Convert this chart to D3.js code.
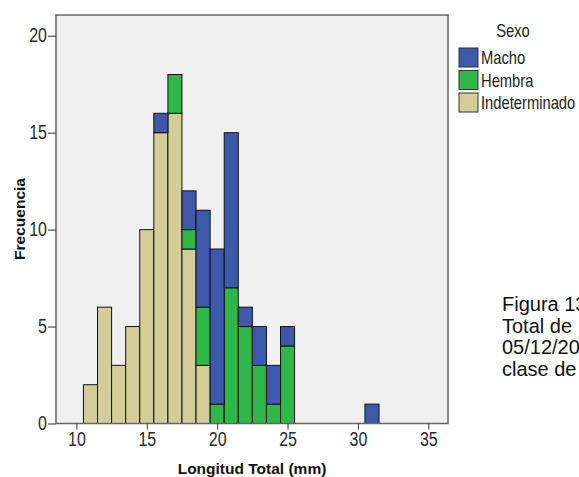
<!DOCTYPE html>
<html>
<head>
<meta charset="utf-8">
<script src="https://cdn.jsdelivr.net/npm/d3@7"></script>
<style>
  body { margin: 0; background: #fff; overflow: hidden; }
  svg { display: block; }
  .tick text { font-family: "Liberation Sans", Arial, sans-serif; font-size: 19.5px; fill: #2a2a2a; }
  .tick line { stroke: #333; }
  .axis-title { font-family: "Liberation Sans", Arial, sans-serif; font-weight: bold; font-size: 15.5px; fill: #111; }
  .legend text { font-family: "Liberation Sans", Arial, sans-serif; font-size: 18px; fill: #222; }
  .note { font-family: "Liberation Sans", Arial, sans-serif; font-size: 20px; fill: #111; }
</style>
</head>
<body>
<svg id="vis" width="579" height="477"></svg>
<script>
// histogram classes (mm) and counts per sex
var BINS = [11, 12, 13, 14, 15, 16, 17, 18, 19, 20, 21, 22, 23, 24, 25, 31];
var MACHO = [0, 0, 0, 0, 0, 1, 0, 2, 5, 8, 8, 1, 2, 2, 1, 1];
var HEMBRA = [0, 0, 0, 0, 0, 0, 2, 1, 3, 1, 7, 5, 3, 1, 4, 0];
var INDET = [2, 6, 3, 5, 10, 15, 16, 9, 3, 0, 0, 0, 0, 0, 0, 0];

var X_TICKS = [10, 15, 20, 25, 30, 35];
var Y_TICKS = [0, 5, 10, 15, 20];
var SERIES = ["Macho", "Hembra", "Indeterminado"];
var COLORS = { "Macho": "#3e58ac", "Hembra": "#2eb848", "Indeterminado": "#d3ce97" };
var NOTE = ["Figura 13:", "Total de", "05/12/20", "clase de"];

var NARROW = 0.82; // fake an Arial Narrow look

var svg = d3.select("#vis");
var plotL = 56, plotR = 448, plotT = 15, plotB = 423.5;

var xScale = d3.scaleLinear().domain([8.55, 36.4]).range([plotL, plotR]);
var yScale = d3.scaleLinear().domain([0, 21.07]).range([plotB, plotT]);

var rows = BINS.map((b, i) => ({ bin: b, Macho: MACHO[i], Hembra: HEMBRA[i], Indeterminado: INDET[i] }));
var stacked = d3.stack().keys(["Indeterminado", "Hembra", "Macho"])(rows);

// plot background
svg.append("rect")
   .attr("x", plotL)
   .attr("y", plotT)
   .attr("width", plotR - plotL)
   .attr("height", plotB - plotT)
   .attr("fill", "#f0f0f0");

// bars
svg.selectAll("g.layer")
   .data(stacked)
   .enter()
   .append("g")
   .attr("class", "layer")
   .attr("fill", d => COLORS[d.key])
   .selectAll("rect")
   .data(d => d.filter(p => p[1] > p[0]))
   .enter()
   .append("rect")
   .attr("x", d => xScale(d.data.bin - 0.5))
   .attr("width", d => xScale(d.data.bin + 0.5) - xScale(d.data.bin - 0.5))
   .attr("y", d => yScale(d[1]))
   .attr("height", d => yScale(d[0]) - yScale(d[1]))
   .attr("stroke", "#111")
   .attr("stroke-width", 1);

// frame
svg.append("rect")
   .attr("x", plotL)
   .attr("y", plotT)
   .attr("width", plotR - plotL)
   .attr("height", plotB - plotT)
   .attr("fill", "none")
   .attr("stroke", "#666")
   .attr("stroke-width", 1.5);

// x-axis
var xAxis = svg.append("g")
   .attr("transform", "translate(0," + plotB + ")")
   .call(d3.axisBottom(xScale).tickValues(X_TICKS).tickSize(6).tickPadding(3));
xAxis.select(".domain").remove();
xAxis.selectAll(".tick text").attr("transform", "scale(" + NARROW + ",1)");

// y-axis
var yAxis = svg.append("g")
   .attr("transform", "translate(" + plotL + ",0)")
   .call(d3.axisLeft(yScale).tickValues(Y_TICKS).tickSize(8).tickPadding(1));
yAxis.select(".domain").remove();
yAxis.selectAll(".tick text")
     .attr("x", -9 / NARROW)
     .attr("transform", "scale(" + NARROW + ",1)");

// axis titles
svg.append("text")
   .attr("class", "axis-title")
   .attr("x", (plotL + plotR) / 2)
   .attr("y", 474)
   .attr("text-anchor", "middle")
   .text("Longitud Total (mm)");

svg.append("text")
   .attr("class", "axis-title")
   .attr("transform", "translate(25,219) rotate(-90)")
   .attr("text-anchor", "middle")
   .text("Frecuencia");

// legend
var legend = svg.append("g").attr("class", "legend");
legend.append("text")
   .attr("transform", "translate(513,37) scale(" + NARROW + ",1)")
   .attr("text-anchor", "middle")
   .text("Sexo");
var item = legend.selectAll("g.item")
   .data(SERIES)
   .enter()
   .append("g")
   .attr("class", "item")
   .attr("transform", (d, i) => "translate(459," + (48 + i * 22.5) + ")");
item.append("rect")
   .attr("width", 19)
   .attr("height", 19)
   .attr("fill", d => COLORS[d])
   .attr("stroke", "#333");
item.append("text")
   .attr("transform", "translate(22,10) scale(" + NARROW + ",1)")
   .attr("dy", "0.35em")
   .text(d => d);

// caption text beside the chart
svg.append("g")
   .selectAll("text")
   .data(NOTE)
   .enter()
   .append("text")
   .attr("class", "note")
   .attr("x", 502)
   .attr("y", (d, i) => 311 + i * 21.7)
   .text(d => d);
</script>
</body>
</html>
